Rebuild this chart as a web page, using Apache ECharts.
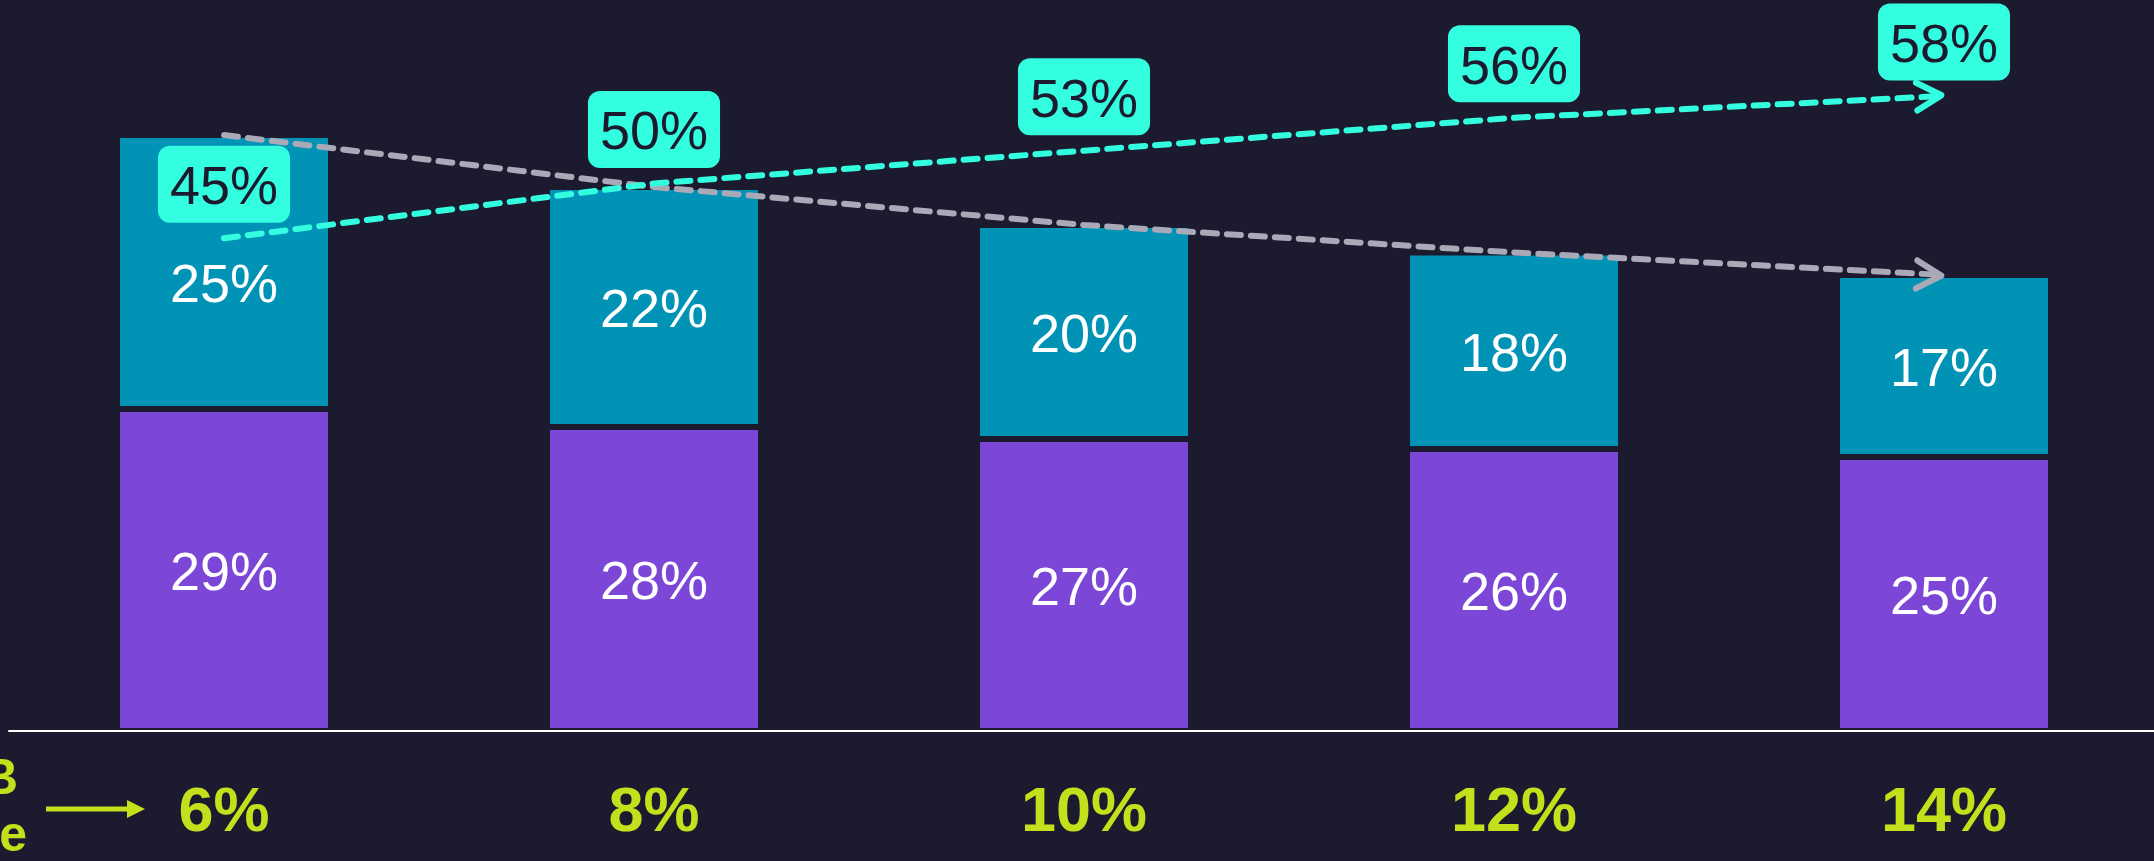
<!DOCTYPE html>
<html>
<head>
<meta charset="utf-8">
<title>Stacked share chart</title>
<script src="https://cdn.jsdelivr.net/npm/echarts@6/dist/echarts.min.js"></script>
<style>
  html, body { margin: 0; padding: 0; background: #1c1a2f; }
  #chart { width: 2154px; height: 861px; }
</style>
</head>
<body>
<div id="chart"></div>
<script>
// categories on the x axis
const categories = ['6%', '8%', '10%', '12%', '14%'];
// lower (purple) and upper (teal) bar segments
const baseShare = [29.4, 27.76, 26.67, 25.75, 25.02];
const topShare = [25.02, 21.92, 19.54, 17.95, 16.62];
// values in the cyan boxes
const boxValues = [45, 50, 53, 56, 58];

const bg = '#1c1a2f';
const purple = '#7c47d6';
const teal = '#0093b6';
const cyan = '#33ffe0';
const grey = '#a9a9b8';
const lime = '#c4df1c';
const font = '"Liberation Sans", Arial, sans-serif';

// stacked totals, used for the grey trend arrow
const totals = baseShare.map((v, i) => +(v + topShare[i]).toFixed(2));

const chevron = 'path://M0,0 L24,12 L0,24';

// put an open arrow head on the last point of a trend line
const withArrow = (values, color, rotate) => values.map((v, i) => {
  if (i < values.length - 1) return v;
  return {
    value: v,
    symbol: chevron,
    symbolSize: [25, 28],
    symbolRotate: rotate,
    symbolOffset: [-15, 0],
    itemStyle: { color: 'none', borderColor: color, borderWidth: 6, borderCap: 'round', borderJoin: 'round' }
  };
});

const chartDom = document.getElementById('chart');
const myChart = echarts.init(chartDom, null, { renderer: 'canvas' });

const barLabel = {
  show: true,
  position: 'inside',
  offset: [0, 5],
  color: '#ffffff',
  fontSize: 54,
  fontFamily: font,
  formatter: p => Math.round(p.value) + '%'
};

const option = {
  backgroundColor: bg,
  animation: false,
  grid: { left: 9, right: -5, top: 74, bottom: 130, containLabel: false, outerBoundsMode: 'none' },
  xAxis: {
    type: 'category',
    data: categories,
    z: 10,
    axisTick: { show: false },
    axisLine: { show: true, lineStyle: { color: '#ffffff', width: 2 } },
    axisLabel: { color: lime, fontSize: 63, fontWeight: 'bold', fontFamily: font, margin: 51 },
    splitLine: { show: false }
  },
  yAxis: { type: 'value', min: 0, max: 60, show: false },
  graphic: [
    { type: 'text', x: 18, y: 780, style: { text: 'B', fill: lime, font: 'bold 50px ' + font, align: 'right', verticalAlign: 'middle' } },
    { type: 'text', x: 27, y: 837, style: { text: 'e', fill: lime, font: 'bold 50px ' + font, align: 'right', verticalAlign: 'middle' } },
    { type: 'line', shape: { x1: 46, y1: 809, x2: 130, y2: 809 }, style: { stroke: lime, lineWidth: 5 } },
    { type: 'polygon', shape: { points: [[127, 800], [145, 809], [127, 818]] }, style: { fill: lime } }
  ],
  series: [
    {
      name: 'base',
      type: 'bar',
      stack: 'share',
      barWidth: 214,
      data: baseShare,
      itemStyle: { color: purple, borderColor: bg, borderWidth: 3 },
      label: barLabel
    },
    {
      name: 'top',
      type: 'bar',
      stack: 'share',
      barWidth: 214,
      data: topShare.map((v, i) => i === 0 ? { value: v, label: { offset: [0, 15] } } : v),
      itemStyle: { color: teal, borderColor: bg, borderWidth: 3 },
      label: barLabel
    },
    {
      name: 'total trend',
      type: 'line',
      z: 3,
      symbol: 'none',
      data: withArrow(totals, grey, -3),
      lineStyle: { color: grey, width: 6, type: [14, 10], cap: 'round' },
      itemStyle: { color: grey }
    },
    {
      name: 'box trend',
      type: 'line',
      z: 3,
      symbol: 'none',
      data: withArrow(boxValues, cyan, 3),
      lineStyle: { color: cyan, width: 6, type: [14, 10], cap: 'round' },
      itemStyle: { color: cyan }
    },
    {
      name: 'box labels',
      type: 'scatter',
      z: 5,
      symbolSize: 1,
      data: boxValues,
      itemStyle: { color: 'rgba(0,0,0,0)', opacity: 1 },
      label: {
        show: true,
        position: 'top',
        distance: 15,
        formatter: '{c}%',
        color: bg,
        opacity: 1,
        fontSize: 54,
        fontFamily: font,
        lineHeight: 55,
        backgroundColor: cyan,
        borderRadius: 12,
        padding: [16, 12, 6, 12]
      }
    }
  ]
};

myChart.setOption(option);

window.addEventListener('resize', () => myChart.resize());
</script>
</body>
</html>
